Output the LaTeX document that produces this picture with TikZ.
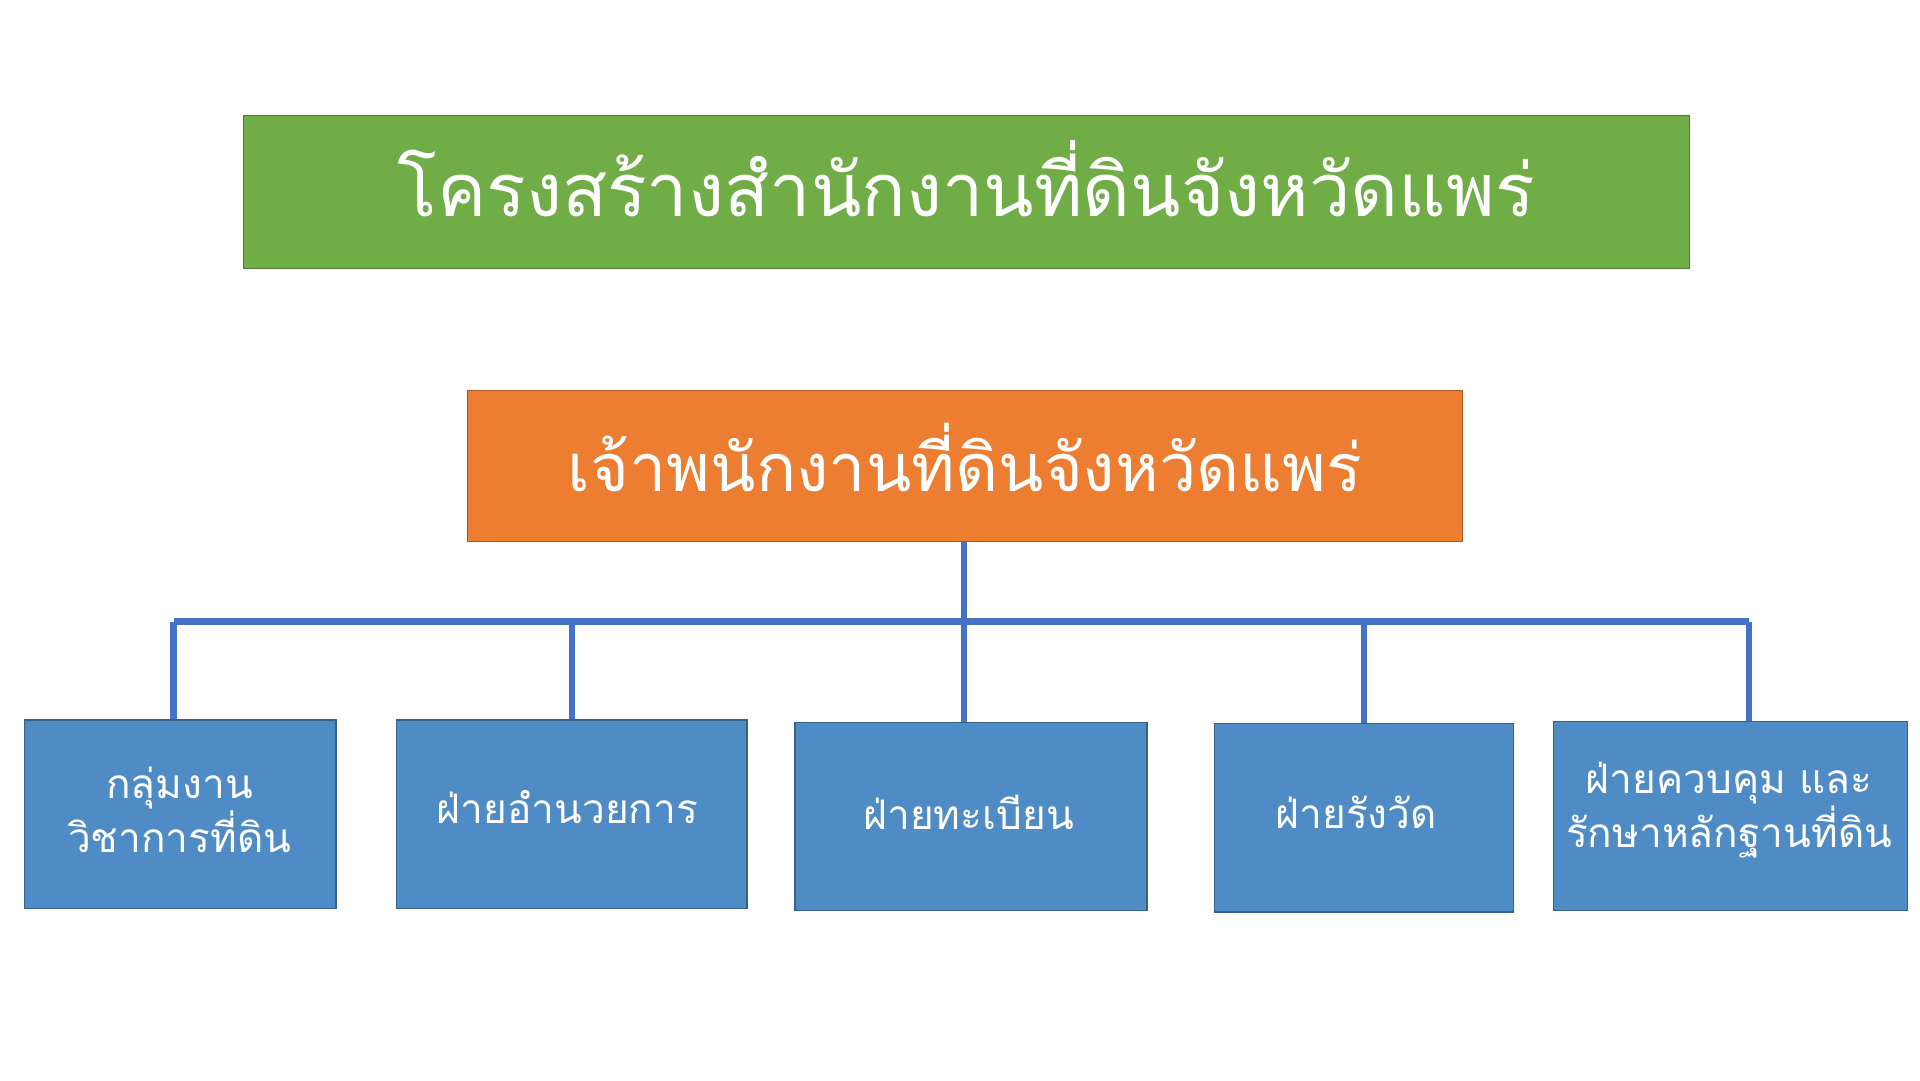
\documentclass[tikz,border=0pt]{standalone}
\usepackage{fontspec}
\newfontfamily\thaifont[Script=Thai]{Loma}
\definecolor{gr}{HTML}{70AD47}
\definecolor{orr}{HTML}{ED7D31}
\definecolor{bl}{HTML}{4F8BC4}
\definecolor{ln}{HTML}{4472C4}
\begin{document}
\begin{tikzpicture}[x=1pt,y=-1pt,
  box/.style={draw=#1!70!black,fill=#1,line width=1pt},
  txt/.style={text=white,font=\thaifont,align=center},
  conn/.style={ln,line width=5pt}]
\useasboundingbox[fill=white] (0,0) rectangle (1560,878);
\draw[box=gr] (198,94) rectangle (1373,218);
\node[txt,font=\thaifont\fontsize{60}{70}\selectfont] (t) at (785,145) {โครงสร้างสำนักงานที่ดินจังหวัดแพร่};
\draw[box=orr] (380,317) rectangle (1188,440);
\node[txt,font=\thaifont\fontsize{54}{64}\selectfont] (h) at (784,372) {เจ้าพนักงานที่ดินจังหวัดแพร่};
\coordinate (hb) at (783,440);
\coordinate (hj) at (783,505);
\draw[conn] (hb) -- (hj);
\draw[conn] (141,505) -- (1421,505);
\foreach \x/\y in {141/585,465/585,783/587,1108/588,1421/586}
  \draw[conn] (\x,505) -- (\x,\y);
\tikzset{bt/.style={txt,font=\thaifont\fontsize{33}{38}\selectfont}}
\draw[box=bl] (20,585) rectangle (273,738);
\node[bt] (b1) at (146,658) {กลุ่มงาน\\วิชาการที่ดิน};
\draw[box=bl] (322,585) rectangle (607,738);
\node[bt] (b2) at (461,656) {ฝ่ายอำนวยการ};
\draw[box=bl] (646,587) rectangle (932,740);
\node[bt] (b3) at (787,660) {ฝ่ายทะเบียน};
\draw[box=bl] (987,588) rectangle (1230,741);
\node[bt] (b4) at (1102,660) {ฝ่ายรังวัด};
\draw[box=bl] (1262,586) rectangle (1550,740);
\node[bt] (b5) at (1405,658) {ฝ่ายควบคุม และ\\รักษาหลักฐานที่ดิน};
\end{tikzpicture}
\end{document}
